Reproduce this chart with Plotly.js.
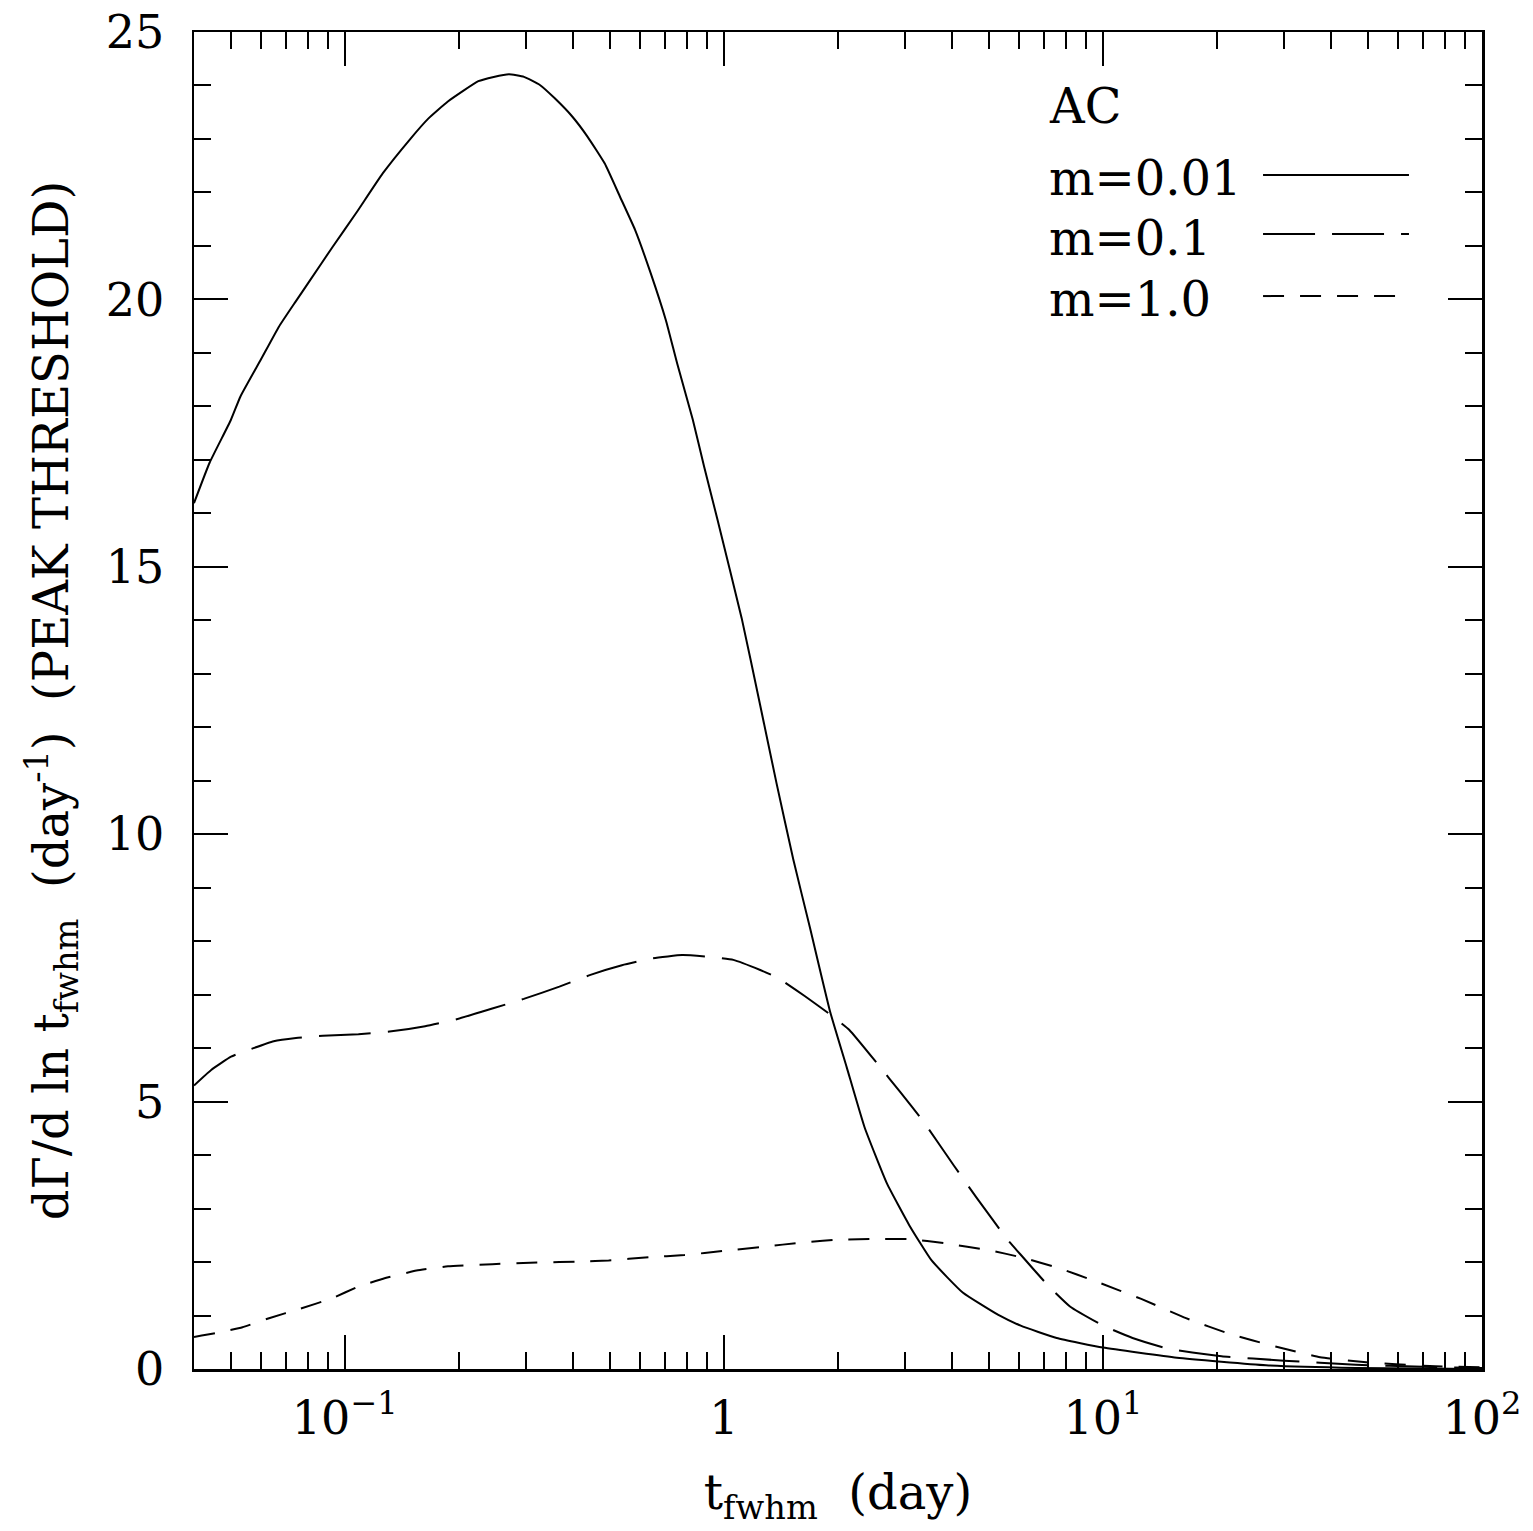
<!DOCTYPE html>
<html>
<head>
<meta charset="utf-8">
<script src="https://cdn.plot.ly/plotly-3.0.1.min.js"></script>
<style>html,body{margin:0;padding:0;background:#fff;}#chart{width:1533px;height:1531px;}</style>
</head>
<body>
<div id="chart"></div>
<script>
// ---- data ----
const m001_x = [0.04, 0.044, 0.05, 0.053, 0.06, 0.067, 0.074, 0.081, 0.093, 0.107, 0.126, 0.148, 0.166, 0.187, 0.225, 0.247, 0.271, 0.297, 0.327, 0.358, 0.398, 0.437, 0.485, 0.532, 0.583, 0.641, 0.703, 0.753, 0.828, 0.887, 0.962, 1.114, 1.245, 1.377, 1.524, 1.687, 1.905, 2.109, 2.35, 2.692, 3.083, 3.532, 4.266, 5.297, 6.067, 7.551, 10, 15.67, 26.92, 46.45, 100];
const m001_y = [16.19, 16.95, 17.74, 18.18, 18.87, 19.49, 19.95, 20.36, 20.99, 21.61, 22.36, 22.98, 23.38, 23.70, 24.08, 24.16, 24.21, 24.16, 24.01, 23.76, 23.42, 23.04, 22.54, 21.92, 21.30, 20.49, 19.61, 18.80, 17.75, 16.87, 15.88, 14.04, 12.43, 10.95, 9.53, 8.25, 6.69, 5.64, 4.52, 3.47, 2.69, 2.03, 1.43, 1.01, 0.81, 0.58, 0.40, 0.21, 0.07, 0.02, 0.0];

const m01_x = [0.04, 0.0444, 0.0501, 0.0574, 0.0649, 0.0743, 0.0875, 0.1086, 0.1312, 0.1629, 0.1972, 0.2449, 0.2965, 0.3681, 0.4446, 0.5383, 0.6501, 0.7762, 0.9016, 1.059, 1.247, 1.390, 1.637, 1.914, 2.143, 2.547, 2.917, 3.342, 4.046, 4.634, 5.598, 6.152, 7.145, 8.185, 10.02, 11.97, 14.86, 20.56, 30.06, 46.45, 69.82, 100];
const m01_y = [5.30, 5.59, 5.84, 6.00, 6.13, 6.19, 6.23, 6.26, 6.31, 6.41, 6.54, 6.74, 6.92, 7.15, 7.37, 7.55, 7.68, 7.74, 7.71, 7.65, 7.46, 7.31, 6.97, 6.62, 6.34, 5.70, 5.18, 4.65, 3.80, 3.21, 2.42, 2.09, 1.57, 1.17, 0.81, 0.58, 0.38, 0.24, 0.155, 0.08, 0.04, 0.02];

const m1_x = [0.04, 0.0456, 0.0537, 0.0631, 0.0764, 0.0923, 0.1086, 0.1279, 0.1545, 0.1871, 0.2449, 0.3214, 0.4217, 0.4966, 0.6339, 0.787, 1.005, 1.247, 1.637, 2.032, 2.523, 3.083, 3.828, 5.023, 6.067, 7.551, 9.638, 12.62, 16.56, 21.73, 28.51, 37.41, 50.35, 69.82, 100];
const m1_y = [0.60, 0.67, 0.78, 0.95, 1.13, 1.32, 1.54, 1.70, 1.84, 1.92, 1.96, 1.99, 2.01, 2.03, 2.09, 2.13, 2.21, 2.28, 2.37, 2.42, 2.43, 2.43, 2.35, 2.22, 2.09, 1.90, 1.63, 1.31, 0.95, 0.65, 0.42, 0.22, 0.12, 0.06, 0.03];

const seriesNames = ['m=0.01', 'm=0.1', 'm=1.0'];
const legendHeader = 'AC';

const xTickVals = [0.1, 1, 10, 100];
const xTickText = ['10<sup>\u22121</sup>', '1', '10<sup>1</sup>', '10<sup>2</sup>'];
const xMinorVals = [0.05, 0.06, 0.07, 0.08, 0.09, 0.2, 0.3, 0.4, 0.5, 0.6, 0.7, 0.8, 0.9, 2, 3, 4, 5, 6, 7, 8, 9, 20, 30, 40, 50, 60, 70, 80, 90];
const yTickVals = [0, 5, 10, 15, 20, 25];
const yTickText = ['0', '5', '10', '15', '20', '25'];
const yMinorVals = [1,2,3,4,6,7,8,9,11,12,13,14,16,17,18,19,21,22,23,24];

// ---- styles ----
const FONT = 'DejaVu Serif, Liberation Serif, serif';
const dashes = ['solid', '52px,17px', '21px,16px'];

const traces = [
  {x: m001_x, y: m001_y, name: seriesNames[0]},
  {x: m01_x, y: m01_y, name: seriesNames[1]},
  {x: m1_x, y: m1_y, name: seriesNames[2]}
].map((t, i) => Object.assign(t, {
  type: 'scatter', mode: 'lines', showlegend: false,
  line: {color: '#000', width: 2, dash: dashes[i], shape: 'spline', smoothing: 0.4}
}));

// custom in-plot legend (paper coords)
const legRowsY = [0.8908, 0.8459, 0.8003];
const legLineY = [0.8930, 0.8489, 0.8025];
const legLineX1 = [0.9433, 0.9433, 0.934];
const annotations = [{
  xref: 'paper', yref: 'paper', x: 0.6623, y: 0.9447, xanchor: 'left', yanchor: 'middle',
  text: legendHeader, showarrow: false, font: {family: FONT, size: 48, color: '#000'}
}];
const shapes = [];
seriesNames.forEach((n, i) => {
  annotations.push({
    xref: 'paper', yref: 'paper', x: 0.6623, y: legRowsY[i], xanchor: 'left', yanchor: 'middle',
    text: n, showarrow: false, font: {family: FONT, size: 48, color: '#000'}
  });
  shapes.push({
    type: 'line', xref: 'paper', yref: 'paper', x0: 0.830, x1: legLineX1[i], y0: legLineY[i], y1: legLineY[i],
    line: {color: '#000', width: 2, dash: dashes[i]}
  });
});

const layout = {
  width: 1533, height: 1531,
  margin: {l: 194, r: 51, t: 32, b: 162, pad: 0},
  paper_bgcolor: '#fff', plot_bgcolor: '#fff',
  font: {family: FONT, size: 46, color: '#000'},
  showlegend: false,
  xaxis: {
    type: 'log', range: [Math.log10(0.04), 2], automargin: false,
    showline: true, linecolor: '#000', linewidth: 2.5, mirror: 'allticks',
    showgrid: false, zeroline: false,
    ticks: 'inside', ticklen: 34, tickwidth: 2, tickcolor: '#000',
    tickmode: 'array', tickvals: xTickVals, ticktext: xTickText,
    ticklabelstandoff: 7,
    tickfont: {family: FONT, size: 46},
    minor: {tickmode: 'array', tickvals: xMinorVals, ticks: 'inside', ticklen: 17, tickwidth: 2, tickcolor: '#000', showgrid: false},
    title: {text: 't<sub>fwhm</sub>  (day)', font: {family: FONT, size: 48}, standoff: 32}
  },
  yaxis: {
    range: [0, 25], automargin: false,
    showline: true, linecolor: '#000', linewidth: 2.5, mirror: 'allticks',
    showgrid: false, zeroline: false,
    ticks: 'inside', ticklen: 34, tickwidth: 2, tickcolor: '#000',
    tickmode: 'array', tickvals: yTickVals, ticktext: yTickText,
    ticklabelstandoff: 18,
    tickfont: {family: FONT, size: 46},
    minor: {tickmode: 'array', tickvals: yMinorVals, ticks: 'inside', ticklen: 17, tickwidth: 2, tickcolor: '#000', showgrid: false},
    title: {text: 'd\u0393/d ln t<sub>fwhm</sub>  (day<sup>-1</sup>)  (PEAK THRESHOLD)', font: {family: FONT, size: 48}, standoff: 22}
  },
  annotations: annotations,
  shapes: shapes
};

Plotly.newPlot('chart', traces, layout, {staticPlot: true, displayModeBar: false});
</script>
</body>
</html>
